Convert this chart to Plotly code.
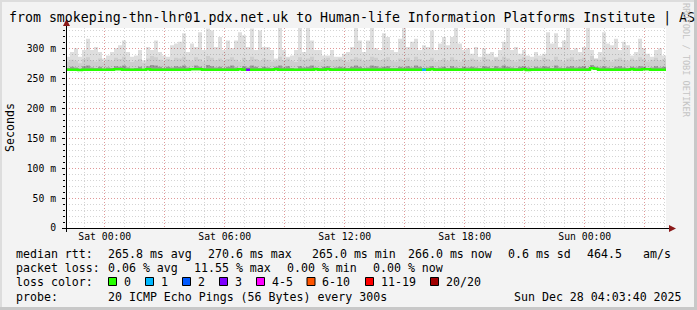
import pandas as pd
import numpy as np
import plotly.graph_objects as go

# ---------------- data ----------------
start = "2025-12-26 22:03:40"
end = "2025-12-28 04:03:40"
step_minutes = 12

smoke_max = [
    287, 295, 301, 287, 298, 317, 298, 303, 295, 284, 289, 295, 301, 306, 314, 295, 287, 289, 298, 281,
    303, 298, 314, 295, 289, 287, 306, 309, 312, 326, 295, 309, 303, 328, 298, 334, 331, 303, 320, 298,
    314, 301, 314, 328, 323, 303, 334, 298, 331, 303,
    303, 298, 284, 340, 298, 287, 289, 298, 340, 295, 340, 314, 298, 298, 289, 289, 298, 287, 287, 292,
    295, 303, 340, 314, 295, 314, 340, 301, 298, 326, 320, 298, 295, 317, 340, 303, 312, 317, 298, 306,
    303, 331, 298, 309, 320, 306, 320, 340, 309, 298,
    301, 292, 303, 287, 301, 292, 295, 287, 298, 312, 340, 298, 303, 292, 298, 289, 287, 295, 289, 292,
    328, 309, 326, 303, 314, 340, 298, 301, 295, 303, 340, 298, 284, 295, 328, 309, 306, 317, 298, 312,
    306, 289, 295, 317, 301, 292, 287, 298, 301, 289,
]

smoke_mid = [
    279, 282, 280, 276, 283, 286, 281, 279, 284, 278, 282, 280, 285, 283, 287, 281, 278, 280, 283, 277,
    284, 288, 286, 282, 279, 283, 281, 285, 284, 287, 282, 280, 286, 283, 279, 288, 285, 281, 284, 280,
    283, 286, 282, 279, 285, 281, 287, 283, 280, 284,
    282, 279, 280, 287, 281, 284, 280, 278, 286, 282, 284, 287, 281, 279, 283, 285, 280, 282, 284, 281,
    279, 283, 286, 284, 280, 282, 287, 285, 281, 283, 286, 280, 279, 284, 282, 285, 281, 287, 283, 280,
    282, 285, 279, 281, 284, 280, 286, 282, 279, 283,
    281, 284, 282, 279, 286, 283, 280, 285, 282, 287, 284, 281, 279, 283, 286, 282, 280, 284, 281, 285,
    283, 280, 287, 282, 279, 284, 286, 281, 283, 285, 280, 288, 284, 282, 286, 281, 279, 283, 285, 282,
    280, 284, 281, 286, 283, 279, 282, 285, 281, 283,
]

smoke_core = [
    268, 270, 269, 267, 271, 272, 269, 268, 270, 267, 269, 268, 271, 270, 272, 269, 267, 268, 270, 266,
    271, 273, 272, 270, 268, 270, 269, 271, 270, 272, 269, 268, 272, 270, 268, 273, 271, 269, 270, 268,
    270, 272, 269, 268, 271, 269, 272, 270, 268, 270,
    269, 268, 270, 272, 269, 271, 268, 267, 271, 269, 270, 272, 269, 268, 270, 271, 268, 269, 270, 269,
    268, 270, 272, 270, 268, 269, 272, 271, 269, 270, 271, 268, 268, 270, 269, 271, 269, 272, 270, 268,
    269, 271, 268, 269, 270, 268, 271, 269, 268, 270,
    269, 270, 269, 268, 271, 270, 268, 271, 269, 272, 270, 269, 268, 270, 271, 269, 268, 270, 269, 271,
    270, 268, 272, 269, 268, 270, 271, 269, 270, 271, 268, 273, 270, 269, 271, 269, 268, 270, 271, 269,
    268, 270, 269, 271, 270, 268, 269, 271, 269, 270,
]

median_rtt = [
    265.0, 265.0, 265.0, 264.5, 265.0, 265.0, 265.0, 265.0, 265.0, 265.0, 265.0, 265.0, 266.0, 266.0, 265.0, 265.0, 265.0, 265.0, 265.0, 265.0,
    266.0, 265.0, 265.0, 265.0, 265.0, 265.0, 265.0, 265.0, 265.0, 265.0, 265.0, 266.0, 266.0, 266.0, 265.0, 265.0, 265.0, 265.0, 265.0, 265.0,
    265.0, 265.0, 265.0, 266.0, 265.0, 265.0, 265.0, 265.0, 265.0, 265.0,
    265.0, 265.0, 266.0, 265.0, 265.0, 265.0, 265.0, 265.0, 265.0, 265.0, 265.0, 265.0, 266.0, 265.0, 265.0, 266.0, 265.0, 265.0, 265.0, 265.0,
    265.0, 265.0, 265.0, 265.0, 265.0, 265.0, 265.0, 265.0, 265.0, 265.0, 265.0, 265.0, 265.0, 265.0, 265.0, 265.0, 265.0, 265.0, 265.0, 265.0,
    265.0, 266.0, 265.0, 265.0, 265.0, 265.0, 265.0, 265.0, 265.0, 265.0,
    265.0, 265.0, 265.0, 265.0, 265.0, 265.0, 265.0, 265.0, 265.0, 265.0, 265.0, 265.0, 265.0, 265.0, 266.0, 264.5, 265.0, 265.0, 265.0, 265.0,
    265.0, 265.0, 265.0, 265.0, 265.0, 265.0, 265.0, 265.0, 265.0, 265.0, 265.0, 267.5, 266.5, 265.0, 265.0, 265.0, 265.0, 265.0, 265.0, 265.0,
    265.0, 266.0, 265.0, 265.0, 266.0, 266.0, 265.0, 265.0, 265.0, 265.0,
]

loss_idx = [45, 89]
loss_count = [3, 1]

ytick_vals = [0, 50, 100, 150, 200, 250, 300]
ytick_text = ["0", "50 m", "100 m", "150 m", "200 m", "250 m", "300 m"]
xtick_vals = ["2025-12-27 00:00", "2025-12-27 03:00", "2025-12-27 06:00", "2025-12-27 09:00",
              "2025-12-27 12:00", "2025-12-27 15:00", "2025-12-27 18:00", "2025-12-27 21:00",
              "2025-12-28 00:00", "2025-12-28 03:00"]
xtick_text = ["Sat 00:00", "", "Sat 06:00", "", "Sat 12:00", "", "Sat 18:00", "", "Sun 00:00", ""]

loss_labels = ["0", "1", "2", "3", "4-5", "6-10", "11-19", "20/20"]
loss_colors = ["#26ff00", "#00b8ff", "#0059ff", "#7e00ff", "#ff00ff", "#ff5500", "#ff0000", "#a00000"]

title_text = "from smokeping-thn-lhr01.pdx.net.uk to Human-life Information Platforms Institute | AS"
row_median = ["median rtt:", "265.8 ms avg", "270.6 ms max", "265.0 ms min", "266.0 ms now", "0.6 ms sd", "464.5", "am/s"]
row_loss = ["packet loss:", "0.06 % avg", "11.55 % max", "0.00 % min", "0.00 % now"]
row_probe = ["probe:", "20 ICMP Echo Pings (56 Bytes) every 300s", "Sun Dec 28 04:03:40 2025"]

# ---------------- layout geometry (pixels) ----------------
W, H = 697, 310
L, R, T, B = 66, 666, 28, 228
MONO = "DejaVu Sans Mono"


def fx(p):
    return (p - L) / (R - L)


def fy(p):
    return (B - p) / (B - T)


n = len(smoke_max)
times = pd.date_range(start=start, periods=n + 1, freq=f"{step_minutes}min")
ext = lambda a: list(a) + [a[-1]]

smax = np.array(smoke_max, dtype=float)
smid = np.minimum(np.array(smoke_mid, dtype=float), smax)
score = np.minimum(np.array(smoke_core, dtype=float), smid)

fig = go.Figure()


def band(lo, hi, color):
    fig.add_trace(go.Scatter(x=times, y=ext(lo), mode="lines", line=dict(width=0, shape="hv"),
                             hoverinfo="skip", showlegend=False))
    fig.add_trace(go.Scatter(x=times, y=ext(hi), mode="lines", line=dict(width=0, shape="hv"),
                             fill="tonexty", fillcolor=color, hoverinfo="skip", showlegend=False))


band(median_rtt, smax, "rgba(0,0,0,0.13)")
band(median_rtt, smid, "rgba(0,0,0,0.07)")
band(median_rtt, score, "rgba(0,0,0,0.25)")

fig.add_trace(go.Scatter(x=times, y=ext(median_rtt), mode="lines",
                         line=dict(color=loss_colors[0], width=2.4, shape="hv"),
                         hoverinfo="skip", showlegend=False))

for i, c in zip(loss_idx, loss_count):
    col = loss_colors[{1: 1, 2: 2, 3: 3}.get(c, 4)]
    fig.add_trace(go.Scatter(x=[times[i], times[i + 1]], y=[median_rtt[i], median_rtt[i]], mode="lines",
                             line=dict(color=col, width=2.4), hoverinfo="skip", showlegend=False))

shapes = []
# frame
shapes.append(dict(type="rect", xref="paper", yref="paper", x0=fx(0), x1=fx(W), y0=fy(H - 3), y1=fy(H),
                   fillcolor="#c8c8c8", line=dict(width=0), layer="below"))
shapes.append(dict(type="rect", xref="paper", yref="paper", x0=fx(W - 3), x1=fx(W), y0=fy(0), y1=fy(H),
                   fillcolor="#c8c8c8", line=dict(width=0), layer="below"))
shapes.append(dict(type="rect", xref="paper", yref="paper", x0=fx(0), x1=fx(W - 3), y0=fy(0), y1=fy(2),
                   fillcolor="#dddddd", line=dict(width=0), layer="below"))
shapes.append(dict(type="rect", xref="paper", yref="paper", x0=fx(0), x1=fx(2), y0=fy(0), y1=fy(H - 3),
                   fillcolor="#dddddd", line=dict(width=0), layer="below"))
# axes lines and arrows
shapes.append(dict(type="line", xref="paper", yref="paper", x0=fx(62), x1=fx(670), y0=fy(228.5), y1=fy(228.5),
                   line=dict(color="black", width=1)))
shapes.append(dict(type="line", xref="paper", yref="paper", x0=fx(66.5), x1=fx(66.5), y0=fy(232), y1=fy(24),
                   line=dict(color="black", width=1)))
shapes.append(dict(type="path", xref="paper", yref="paper",
                   path=f"M {fx(669)} {fy(225)} L {fx(676)} {fy(228.5)} L {fx(669)} {fy(232)} Z",
                   fillcolor="#8b1a1a", line=dict(width=0)))
shapes.append(dict(type="path", xref="paper", yref="paper",
                   path=f"M {fx(63)} {fy(26)} L {fx(66.5)} {fy(19)} L {fx(70)} {fy(26)} Z",
                   fillcolor="#8b1a1a", line=dict(width=0)))

annotations = []


def text(x, y, s, size=11.6, anchor="left", color="black", angle=0, yanchor="middle"):
    annotations.append(dict(xref="paper", yref="paper", x=fx(x), y=fy(y), text=s, showarrow=False,
                            xanchor=anchor, yanchor=yanchor, textangle=angle,
                            font=dict(family=MONO, size=size, color=color), borderpad=0))


text(8, 18, title_text, size=13.25)
text(10, 128, "Seconds", angle=-90, anchor="center")
text(686, 60, "RRDTOOL / TOBI OETIKER", size=8.6, color="#c4c4c4", angle=90, anchor="center")

x_med = [15, 106.5, 206.5, 311, 406.5, 506.5, 585.5, 641.5]
for x, s in zip(x_med, row_median):
    text(x, 253.5, s)
x_loss = [15, 106.5, 192.5, 285.5, 371.5]
for x, s in zip(x_loss, row_loss):
    text(x, 268, s)
text(15, 282, "loss color:")
sq_x = [108, 145, 182, 219, 256, 306.5, 365, 430]
for x, lab, col in zip(sq_x, loss_labels, loss_colors):
    shapes.append(dict(type="rect", xref="paper", yref="paper", x0=fx(x + 0.5), x1=fx(x + 8.5),
                       y0=fy(277.5), y1=fy(285.5), fillcolor=col, line=dict(color="black", width=1)))
    text(x + 14.5, 282, lab)
x_probe = [15, 106.5, 513]
for x, s in zip(x_probe, row_probe):
    text(x, 296.5, s)

grid_gray = "rgba(160,160,160,0.45)"
grid_red = "rgba(240,80,80,0.45)"

fig.update_layout(
    width=W, height=H, autosize=False,
    margin=dict(l=L, r=W - R, t=T, b=H - B, pad=0),
    paper_bgcolor="#f3f3f3", plot_bgcolor="white",
    shapes=shapes, annotations=annotations,
    xaxis=dict(type="date", range=[start, end], tickmode="array", tickvals=xtick_vals, ticktext=xtick_text,
               showgrid=True, gridcolor=grid_red, griddash="1px,2px", gridwidth=1,
               minor=dict(tickmode="linear", tick0="2025-12-27 00:00", dtick=3600000, showgrid=True,
                          gridcolor=grid_gray, griddash="1px,2px", ticks=""),
               ticks="", showline=False, zeroline=False, fixedrange=True,
               tickfont=dict(family=MONO, size=9.75, color="black"), ticklabelstandoff=1),
    yaxis=dict(range=[0, 335], tickmode="array", tickvals=ytick_vals, ticktext=ytick_text,
               showgrid=True, gridcolor=grid_red, griddash="1px,2px", gridwidth=1,
               minor=dict(tickmode="linear", tick0=0, dtick=10, showgrid=True,
                          gridcolor=grid_gray, griddash="1px,2px", ticks="outside", ticklen=2, tickcolor="black"),
               ticks="outside", ticklen=3, tickcolor="black", showline=False, zeroline=False, fixedrange=True,
               tickfont=dict(family=MONO, size=9.75, color="black"), ticklabelstandoff=4),
    showlegend=False,
)

fig.write_html("out.html")
